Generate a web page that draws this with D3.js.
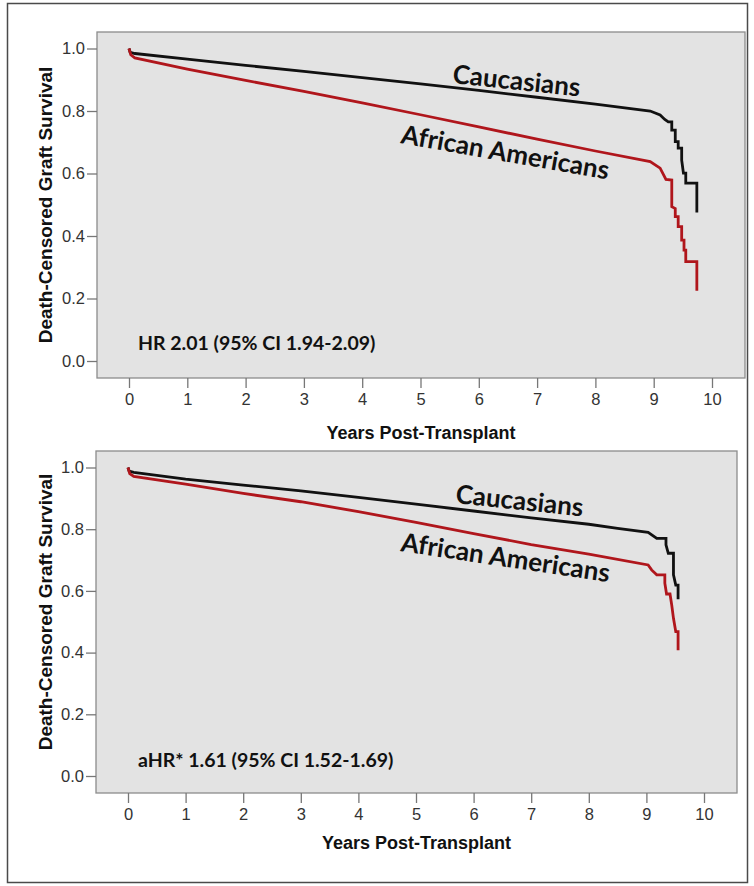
<!DOCTYPE html>
<html>
<head>
<meta charset="utf-8">
<script src="https://cdn.jsdelivr.net/npm/d3@7"></script>
<style>
  html, body { margin: 0; padding: 0; background: #fff; }
  svg { display: block; }
</style>
</head>
<body>
<svg id="chart" width="754" height="886"></svg>
<script>
// ---------- DATA ----------
const xTicks = [0, 1, 2, 3, 4, 5, 6, 7, 8, 9, 10];
const yTicks = [0.0, 0.2, 0.4, 0.6, 0.8, 1.0];
const seriesNames = ["Caucasians", "African Americans"];

// Top panel (unadjusted): [years, survival]
const topCaucasians = [
  [0, 1.0], [0.02, 0.988], [0.1, 0.984], [1, 0.966], [2, 0.946], [3, 0.927], [4, 0.907],
  [5, 0.887], [6, 0.866], [7, 0.844], [8, 0.822], [8.94, 0.800], [9.11, 0.787],
  [9.19, 0.773], [9.25, 0.765], [9.31, 0.765], [9.31, 0.739], [9.37, 0.739], [9.37, 0.702],
  [9.42, 0.702], [9.42, 0.681], [9.48, 0.681], [9.48, 0.643], [9.51, 0.601], [9.55, 0.601],
  [9.55, 0.569], [9.74, 0.569], [9.74, 0.475]
];
const topAfricanAmericans = [
  [0, 1.0], [0.03, 0.980], [0.1, 0.970], [1, 0.934], [2, 0.898], [3, 0.863], [4, 0.826],
  [5, 0.788], [6, 0.749], [7, 0.710], [8, 0.672], [8.94, 0.638], [9.11, 0.617],
  [9.21, 0.581], [9.31, 0.579], [9.31, 0.494], [9.37, 0.488], [9.37, 0.462], [9.42, 0.462],
  [9.42, 0.430], [9.48, 0.430], [9.48, 0.387], [9.52, 0.387], [9.52, 0.355], [9.55, 0.355],
  [9.55, 0.318], [9.74, 0.318], [9.74, 0.225]
];
// Bottom panel (adjusted)
const bottomCaucasians = [
  [0, 1.0], [0.02, 0.988], [0.1, 0.984], [1, 0.962], [2, 0.943], [3, 0.924], [4, 0.903],
  [5, 0.881], [6, 0.859], [7, 0.837], [8, 0.816], [8.5, 0.803], [9.03, 0.790],
  [9.18, 0.770], [9.34, 0.770], [9.34, 0.749], [9.38, 0.722], [9.47, 0.722], [9.47, 0.652],
  [9.51, 0.619], [9.55, 0.619], [9.55, 0.573]
];
const bottomAfricanAmericans = [
  [0, 1.0], [0.03, 0.980], [0.1, 0.971], [1, 0.946], [2, 0.916], [3, 0.889], [4, 0.857],
  [5, 0.822], [6, 0.786], [7, 0.750], [8, 0.719], [9.03, 0.684], [9.09, 0.668],
  [9.18, 0.652], [9.32, 0.652], [9.32, 0.625], [9.35, 0.590], [9.41, 0.590], [9.44, 0.554],
  [9.47, 0.511], [9.51, 0.468], [9.55, 0.468], [9.55, 0.408]
];
const annotations = ["HR 2.01 (95% CI 1.94-2.09)", "aHR* 1.61 (95% CI 1.52-1.69)"];
const yTitle = "Death-Censored Graft Survival";
const xTitle = "Years Post-Transplant";

// ---------- LAYOUT ----------
const svg = d3.select("#chart");
const colors = { "Caucasians": "#111111", "African Americans": "#b0161c" };

svg.append("rect")
  .attr("x", 7.5).attr("y", 3.5).attr("width", 740).attr("height", 879)
  .attr("fill", "none").attr("stroke", "#4a4a4a").attr("stroke-width", 1.5);

const panels = [
  {
    box: { left: 97, right: 745, top: 32, bottom: 378 },
    xRange: [129, 712], yRange: [361, 48.5],
    series: [topCaucasians, topAfricanAmericans],
    annotation: annotations[0], annPos: [138, 350],
    yTitleY: 205, xTitleY: 439,
    labels: [
      { text: seriesNames[0], x: 452, y: 83, rot: 6 },
      { text: seriesNames[1], x: 400, y: 143, rot: 10 }
    ]
  },
  {
    box: { left: 96, right: 737, top: 451, bottom: 793 },
    xRange: [128, 704], yRange: [776, 467.5],
    series: [bottomCaucasians, bottomAfricanAmericans],
    annotation: annotations[1], annPos: [138, 767],
    yTitleY: 612, xTitleY: 849,
    labels: [
      { text: seriesNames[0], x: 455, y: 503, rot: 6 },
      { text: seriesNames[1], x: 400, y: 551, rot: 8.5 }
    ]
  }
];

panels.forEach(p => {
  const g = svg.append("g");
  const x = d3.scaleLinear().domain([0, 10]).range(p.xRange);
  const y = d3.scaleLinear().domain([0, 1]).range(p.yRange);
  const b = p.box;

  g.append("rect")
    .attr("x", b.left).attr("y", b.top)
    .attr("width", b.right - b.left).attr("height", b.bottom - b.top)
    .attr("fill", "#e3e3e3").attr("stroke", "#8c8c8c").attr("stroke-width", 1.3);

  const tickFont = "Liberation Sans, Arial, sans-serif";
  // Y axis
  const yAxis = g.append("g")
    .attr("transform", `translate(${b.left},0)`)
    .call(d3.axisLeft(y).tickValues(yTicks).tickFormat(d3.format(".1f")).tickSize(10).tickPadding(2));
  yAxis.select(".domain").remove();
  yAxis.selectAll("line").attr("stroke", "#777").attr("stroke-width", 1.3);
  yAxis.selectAll("text").attr("fill", "#333").style("font-family", tickFont).style("font-size", "16.5px");

  // X axis
  const xAxis = g.append("g")
    .attr("transform", `translate(0,${b.bottom})`)
    .call(d3.axisBottom(x).tickValues(xTicks).tickFormat(d3.format("d")).tickSize(10).tickPadding(5));
  xAxis.select(".domain").remove();
  xAxis.selectAll("line").attr("stroke", "#777").attr("stroke-width", 1.3);
  xAxis.selectAll("text").attr("fill", "#333").style("font-family", tickFont).style("font-size", "16.5px");

  // Curves
  const line = d3.line().x(d => x(d[0])).y(d => y(d[1]));
  p.series.forEach((s, i) => {
    g.append("path")
      .datum(s)
      .attr("d", line)
      .attr("fill", "none")
      .attr("stroke", colors[seriesNames[i]])
      .attr("stroke-width", 2.8)
      .attr("stroke-linejoin", "miter");
  });

  // Series labels
  p.labels.forEach(l => {
    g.append("text")
      .attr("transform", `translate(${l.x},${l.y}) rotate(${l.rot})`)
      .text(l.text)
      .attr("fill", "#111")
      .style("font-family", "Lato, 'Open Sans', sans-serif")
      .style("font-weight", "700")
      .style("font-size", "26px");
  });

  // Annotation
  g.append("text")
    .attr("x", p.annPos[0]).attr("y", p.annPos[1])
    .text(p.annotation)
    .attr("fill", "#111")
    .style("font-family", "Lato, 'Open Sans', sans-serif")
    .style("font-weight", "700")
    .style("font-size", "19.5px");

  // Axis titles
  g.append("text")
    .attr("transform", `translate(52,${p.yTitleY}) rotate(-90)`)
    .attr("text-anchor", "middle")
    .text(yTitle)
    .attr("fill", "#111")
    .style("font-family", "Liberation Sans, Arial, sans-serif")
    .style("font-weight", "700")
    .style("font-size", "19px");

  g.append("text")
    .attr("x", (b.left + b.right) / 2).attr("y", p.xTitleY)
    .attr("text-anchor", "middle")
    .text(xTitle)
    .attr("fill", "#111")
    .style("font-family", "Liberation Sans, Arial, sans-serif")
    .style("font-weight", "700")
    .style("font-size", "18px");
});
</script>
</body>
</html>
